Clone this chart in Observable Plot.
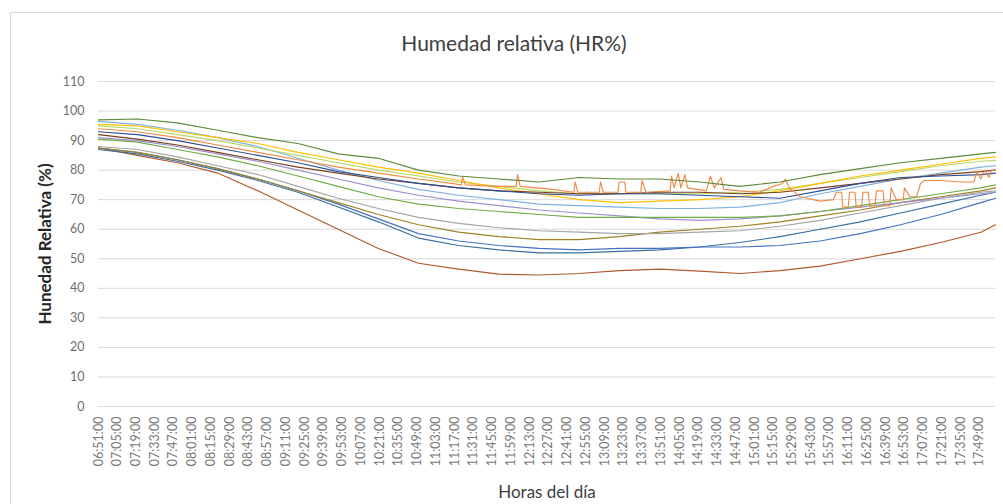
<!DOCTYPE html>
<html>
<head>
<meta charset="utf-8">
<script src="https://cdn.jsdelivr.net/npm/d3@7"></script>
<script src="https://cdn.jsdelivr.net/npm/@observablehq/plot@0.6"></script>
<style>
  html, body { margin: 0; padding: 0; background: #ffffff; }
  #wrap { position: relative; width: 1003px; height: 504px; overflow: hidden; }
  #border { position: absolute; left: 10px; top: 12px; width: 1010px; height: 510px; border: 1px solid #d9d9d9; box-sizing: border-box; }
  #plot { position: absolute; left: 0; top: 0; }
</style>
</head>
<body>
<div id="wrap"><div id="border"></div><div id="plot"></div></div>
<script>
// ---- data ----
const chartTitle = "Humedad relativa (HR%)";
const yTitle = "Hunedad Relativa (%)";
const xTitle = "Horas del día";
const yTicks = [0, 10, 20, 30, 40, 50, 60, 70, 80, 90, 100, 110];
const firstTick = "06:51";
const lastTick = "17:49";
const tickStepMin = 14;
const domainEnd = "18:01";

const times = ["06:51","07:20","07:50","08:20","08:50","09:20","09:50","10:20","10:50","11:20","11:50","12:20",
               "12:50","13:20","13:50","14:20","14:50","15:20","15:50","16:20","16:50","17:20","17:50","18:01"];

const serie1  = [87.5,86,83.5,80.5,77,73,68.5,63.5,58.5,56,54.5,53.5,53,53.5,53.5,54,54,54.5,56,58.5,61.5,65,69,70.5];
const serie3  = [88,87,84.5,81.5,78.5,74.5,70.5,67,64,62,60.5,59.5,59,58.5,58.5,59,59.5,61,63,65.5,68,70.5,72.5,73];
const serie4  = [95.5,95,93,91,89,86,83.5,81,79,76.5,74,72,70,69,69.5,70,71,73,75.5,78,80,82,84,84.5];
const serie5  = [96.5,95.5,93.5,91,88,84,80,76.5,73.5,71.5,70,68.5,68,67.5,67,67,67.5,69,72,74.5,77,79,81,81.5];
const serie6  = [90.5,89.5,87,84.5,81.5,78,74.5,71,68.5,67,66,65,64,64,64,64,64,64.5,66,68,70,72,74,75];
const serie7  = [93,92,90,87.5,85,82.5,79.5,77.5,75.5,74,73,72,71.5,72,72,71.5,71,70.5,73,75.5,77.5,78,78.5,79];
const serie8  = [87.5,85,82.5,79,73,66.5,60,53.5,48.5,46.5,44.8,44.5,45,46,46.5,45.8,45,46,47.5,50,52.5,55.5,59,61.5];
const serie9  = [92,90.5,88.5,86,83.5,81,79,77,75.5,74,73,72.5,72,72,72.5,72.5,72,72.5,74,75.5,77,78.5,79.5,80];
const serie10 = [87.5,86,83.5,80.5,77,73,69,65,61.5,59,57.5,56.5,56.5,57.5,59,60,61,62.5,64.5,66.5,69,71,73,74];
const serie11 = [87,85.5,83,80,76.5,72.5,67.5,62.5,57,54.5,53,52,52,52.5,53,54,55.5,57.5,60,62.5,65.5,68.5,71.5,72.5];
const serie12 = [97,97.3,96,93.5,91,89,85.5,84,80,78,77,76,77.5,77,77,76,74.5,76,78.5,80.5,82.5,84,85.5,86];
const serie13 = [91,90,88,85.5,83,80,77,74,71.5,69.5,68,66.5,65.5,64.5,63.5,63,63.5,64.5,66,67.5,69,70.5,72,72.5];
const serie14 = [95,94,92,90,87.5,85,82.5,80,78,76,74.5,73,72,72,72,72,72.5,73.5,75.5,77.5,79.5,81.5,83,83.3];

// orange series has its own, denser time list (spiky square waves)
const times2 = ["06:51","07:20","07:50","08:20","08:50","09:20","09:50","10:20","10:50","11:15","11:22","11:23","11:25","11:50",
  "12:03","12:04","12:06","12:30","12:46","12:47","12:49","13:05","13:06","13:08","13:19","13:20","13:24","13:25","13:36","13:37",
  "13:40","13:58","13:59","14:01","14:04","14:06","14:09","14:11","14:25","14:28","14:31","14:36","14:38","14:50","15:05","15:15",
  "15:22","15:24","15:27","15:35","15:50","16:00","16:02","16:06","16:07","16:11","16:12","16:16","16:17","16:21","16:22","16:26",
  "16:27","16:31","16:32","16:37","16:38","16:42","16:43","16:47","16:52","16:53","16:57","17:02","17:05","17:08","17:20","17:35",
  "17:45","17:47","17:50","17:53","17:56","17:58","18:01"];
const serie2 = [94,93,91,88.5,86,83.5,81,79,77,75.5,75,77.8,75,74.5,
  74.5,78.5,74.5,73.5,72.5,76,72.5,72.5,76,72.5,72.5,76,76,72.5,72.5,76.5,
  72.5,73,78,74,79,74,78.5,74,73,78,74,77.5,73.5,73,72.5,74.5,
  75.5,77,74,71,69.5,70,72.5,72.5,67.5,67.5,72.5,72.5,67.5,67.5,72.5,72.5,
  68,68,73,73,68,68,74,70,70,74,71,71,75.5,76.5,76.5,76,
  76,79.5,77,80,77.5,80,80];

const seriesNames  = ["S1","S2","S3","S4","S5","S6","S7","S8","S9","S10","S11","S12","S13","S14"];
const seriesColors = ["#4472C4","#F08A45","#A5A5A5","#FFC000","#7FB2E0","#70AD47","#2E4F95","#B05A2A","#7A3F22","#A08020","#3A6E9E","#5E8A3A","#9A90D0","#B8D66A"];

// ---- build rows ----
const toMin = s => { const [h, m] = s.split(":").map(Number); return h * 60 + m; };
const valueLists = [serie1, serie2, serie3, serie4, serie5, serie6, serie7, serie8, serie9, serie10, serie11, serie12, serie13, serie14];
const rows = [];
valueLists.forEach((vals, i) => {
  const ts = (i === 1) ? times2 : times;
  vals.forEach((v, j) => rows.push({serie: seriesNames[i], t: toMin(ts[j]), v}));
});
const drawOrder = [7, 10, 0, 9, 2, 12, 5, 4, 13, 3, 8, 6, 1, 11]; // back to front
const ordered = [];
drawOrder.forEach(i => rows.filter(r => r.serie === seriesNames[i]).forEach(r => ordered.push(r)));

const xTicks = d3.range(toMin(firstTick), toMin(lastTick) + 1, tickStepMin);
const fmt = m => String(Math.floor(m / 60)).padStart(2, "0") + ":" + String(m % 60).padStart(2, "0") + ":00";

const chart = Plot.plot({
  width: 1003,
  height: 504,
  marginLeft: 98,
  marginRight: 8,
  marginTop: 81,
  marginBottom: 98,
  style: {fontFamily: "Lato, 'Open Sans', sans-serif", fontSize: "12px", color: "#6e6e6e", background: "transparent"},
  x: {domain: [toMin(firstTick), toMin(domainEnd)], label: null},
  y: {domain: [0, 110], label: null},
  color: {domain: seriesNames, range: seriesColors},
  marks: [
    Plot.gridY(yTicks, {stroke: "#d9d9d9", strokeOpacity: 1, strokeWidth: 1}),
    Plot.axisY(yTicks, {tickSize: 0, tickPadding: 14, fontSize: 12.5, fill: "#6e6e6e", label: null}),
    Plot.axisX(xTicks, {tickFormat: fmt, tickRotate: -90, tickSize: 0, tickPadding: 10, fontSize: 12.5, fill: "#777777", label: null}),
    Plot.lineY(ordered, {x: "t", y: "v", z: "serie", stroke: "serie", strokeWidth: 1.15, curve: "linear"}),
    Plot.text([chartTitle], {frameAnchor: "top", textAnchor: "middle", lineAnchor: "middle", dx: -33, dy: -37, fontSize: 21, fill: "#404040"}),
    Plot.text([yTitle], {frameAnchor: "left", textAnchor: "middle", lineAnchor: "middle", dx: -53, rotate: -90, fontSize: 17, fontWeight: "bold", fill: "#262626"}),
    Plot.text([xTitle], {frameAnchor: "bottom", textAnchor: "middle", lineAnchor: "middle", dy: 86, fontSize: 17, fill: "#404040"})
  ]
});
document.getElementById("plot").appendChild(chart);
</script>
</body>
</html>
